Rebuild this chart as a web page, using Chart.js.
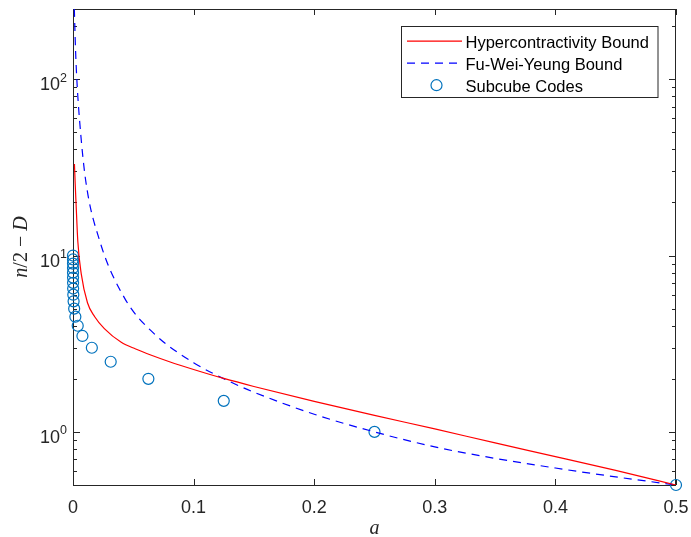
<!DOCTYPE html>
<html>
<head>
<meta charset="utf-8">
<script src="https://cdn.jsdelivr.net/npm/chart.js@4.4.1/dist/chart.umd.min.js"></script>
<style>
	html, body { margin: 0; padding: 0; background: #fff; }
</style>
</head>
<body>
<canvas id="chart" width="691" height="537"></canvas>
<script>
// series
const hyperA = [0.0012, 0.0018, 0.0025, 0.004, 0.0068, 0.012, 0.018, 0.026, 0.04, 0.052, 0.065, 0.08, 0.1, 0.125, 0.15, 0.2, 0.25, 0.3, 0.35, 0.4, 0.45, 0.5];
const hyperY = [33, 25.7, 20, 12, 7.9, 5.4, 4.5, 3.85, 3.22, 2.95, 2.72, 2.5, 2.26, 2.01, 1.81, 1.49, 1.24, 1.04, 0.866, 0.725, 0.605, 0.5];

const fwyA = [0.0011, 0.0021, 0.0032, 0.0054, 0.0104, 0.022, 0.043, 0.067, 0.1, 0.13, 0.15, 0.2, 0.25, 0.3, 0.35, 0.4, 0.45, 0.5];
const fwyY = [250, 147, 99, 59, 27, 12.2, 5.7, 3.62, 2.47, 1.93, 1.68, 1.26, 1.0, 0.822, 0.708, 0.624, 0.556, 0.5];

const subcubeA = [0.5, 0.25, 0.125, 0.0625, 0.03125, 0.015625, 0.0078125, 0.00390625, 0.001953125, 0.0009765625,
	0.00048828125, 0.000244140625, 0.0001220703125, 0.00006103515625, 0.000030517578125, 0.0000152587890625,
	0.00000762939453125, 0.000003814697265625, 0.0000019073486328125, 0.00000095367431640625];
const subcubeY = [0.5, 1, 1.5, 2, 2.5, 3, 3.5, 4, 4.5, 5, 5.5, 6, 6.5, 7, 7.5, 8, 8.5, 9, 9.5, 10];

const seriesNames = ['Hypercontractivity Bound', 'Fu-Wei-Yeung Bound', 'Subcube Codes'];

const xTickVals = [0, 0.1, 0.2, 0.3, 0.4, 0.5];
const xTickLabels = ['0', '0.1', '0.2', '0.3', '0.4', '0.5'];
const yTickVals = [0.6, 0.7, 0.8, 0.9, 1, 2, 3, 4, 5, 6, 7, 8, 9, 10, 20, 30, 40, 50, 60, 70, 80, 90, 100, 200];
const yMajorVals = [1, 10, 100];
const yMajorExp = ['0', '1', '2'];

function toPoints(xs, ys) {
	return xs.map((x, i) => ({x: x, y: ys[i]}));
}

const axisColor = '#262626';

const matlabAxes = {
	id: 'matlabAxes',
	beforeDatasetsDraw: (chart) => {
		const {ctx, chartArea: ca, scales: {x, y}} = chart;
		ctx.save();
		ctx.strokeStyle = axisColor;
		ctx.lineWidth = 1;
		ctx.beginPath();
		x.ticks.forEach(t => {
			const px = Math.round(x.getPixelForValue(t.value)) + 0.5;
			ctx.moveTo(px, ca.bottom);
			ctx.lineTo(px, ca.bottom - 6);
			ctx.moveTo(px, ca.top);
			ctx.lineTo(px, ca.top + 6);
		});
		y.ticks.forEach(t => {
			const py = Math.round(y.getPixelForValue(t.value)) + 0.5;
			const len = yMajorVals.includes(t.value) ? 7 : 4;
			ctx.moveTo(ca.left, py);
			ctx.lineTo(ca.left + len, py);
			ctx.moveTo(ca.right, py);
			ctx.lineTo(ca.right - len, py);
		});
		ctx.stroke();
		ctx.strokeRect(ca.left + 0.5, ca.top + 0.5, ca.right - ca.left - 1, ca.bottom - ca.top);

		// tick labels
		ctx.fillStyle = axisColor;
		ctx.font = '18px "Liberation Sans", Arial, sans-serif';
		ctx.textAlign = 'center';
		ctx.textBaseline = 'alphabetic';
		x.ticks.forEach((t, i) => {
			ctx.fillText(xTickLabels[i], x.getPixelForValue(t.value), 513);
		});
		ctx.textAlign = 'right';
		yMajorVals.forEach((v, i) => {
			const py = y.getPixelForValue(v);
			ctx.font = '12.5px "Liberation Sans", Arial, sans-serif';
			const ew = ctx.measureText(yMajorExp[i]).width;
			ctx.fillText(yMajorExp[i], 67, py + 2.5);
			ctx.font = '18px "Liberation Sans", Arial, sans-serif';
			ctx.fillText('10', 67 - ew, py + 11);
		});

		// axis titles
		ctx.font = 'italic 20px "Liberation Serif", "Times New Roman", serif';
		ctx.textAlign = 'center';
		ctx.fillText('a', (ca.left + ca.right) / 2, 534);

		ctx.translate(27, (ca.top + ca.bottom) / 2);
		ctx.rotate(-Math.PI / 2);
		const parts = [['n', 'italic '], ['/2 \u2212 ', ''], ['D', 'italic ']];
		let total = 0;
		parts.forEach(p => {
			ctx.font = p[1] + '20px "Liberation Serif", "Times New Roman", serif';
			total += ctx.measureText(p[0]).width;
		});
		let cx = -total / 2;
		ctx.textAlign = 'left';
		parts.forEach(p => {
			ctx.font = p[1] + '20px "Liberation Serif", "Times New Roman", serif';
			ctx.fillText(p[0], cx, 0);
			cx += ctx.measureText(p[0]).width;
		});
		ctx.restore();
	},
	afterDraw: (chart) => {
		const {ctx} = chart;
		const ds = chart.data.datasets;
		ctx.save();
		ctx.fillStyle = '#fff';
		ctx.fillRect(401.5, 26.5, 256.5, 71);
		ctx.strokeStyle = axisColor;
		ctx.lineWidth = 1;
		ctx.strokeRect(401.5, 26.5, 256.5, 71);
		ctx.font = '16.5px "Liberation Sans", Arial, sans-serif';
		ctx.textBaseline = 'alphabetic';
		ctx.textAlign = 'left';
		const baselines = [47.7, 69.7, 91.7];
		ds.forEach((d, i) => {
			const by = baselines[i];
			const my = by - 6.5;
			ctx.strokeStyle = d.borderColor;
			ctx.lineWidth = d.borderWidth;
			if (d.showLine) {
				ctx.setLineDash(d.borderDash || []);
				ctx.beginPath();
				ctx.moveTo(407, my);
				ctx.lineTo(462, my);
				ctx.stroke();
				ctx.setLineDash([]);
			} else {
				ctx.beginPath();
				ctx.arc(436.5, my, d.pointRadius, 0, Math.PI * 2);
				ctx.stroke();
			}
			ctx.fillStyle = '#000';
			ctx.fillText(d.label, 465.5, by);
		});
		ctx.restore();
	}
};

const config = {
	type: 'scatter',
	data: {
		datasets: [
			{
				label: seriesNames[0],
				data: toPoints(hyperA, hyperY),
				showLine: true,
				borderColor: '#ff0000',
				borderWidth: 1.2,
				pointRadius: 0,
				cubicInterpolationMode: 'monotone'
			},
			{
				label: seriesNames[1],
				data: toPoints(fwyA, fwyY),
				showLine: true,
				borderColor: '#0000ff',
				borderWidth: 1.2,
				borderDash: [8, 6],
				pointRadius: 0,
				cubicInterpolationMode: 'monotone'
			},
			{
				label: seriesNames[2],
				data: toPoints(subcubeA, subcubeY),
				showLine: false,
				borderColor: '#0072bd',
				backgroundColor: 'rgba(0,0,0,0)',
				borderWidth: 1.2,
				pointRadius: 5.5,
				clip: false
			}
		]
	},
	options: {
		responsive: false,
		animation: false,
		devicePixelRatio: 1,
		layout: {
			padding: {top: 9, right: 15, left: 0, bottom: 0}
		},
		scales: {
			x: {
				type: 'linear',
				min: 0,
				max: 0.5,
				afterBuildTicks: (scale) => { scale.ticks = xTickVals.map(v => ({value: v})); },
				afterFit: (scale) => { scale.height = 52; },
				ticks: {display: false},
				grid: {display: false},
				border: {display: false}
			},
			y: {
				type: 'logarithmic',
				min: 0.5,
				max: 250,
				afterBuildTicks: (scale) => { scale.ticks = yTickVals.map(v => ({value: v})); },
				afterFit: (scale) => { scale.width = 73; },
				ticks: {display: false},
				grid: {display: false},
				border: {display: false}
			}
		},
		plugins: {
			legend: {display: false},
			tooltip: {enabled: false}
		}
	},
	plugins: [matlabAxes]
};

new Chart(document.getElementById('chart').getContext('2d'), config);
</script>
</body>
</html>
